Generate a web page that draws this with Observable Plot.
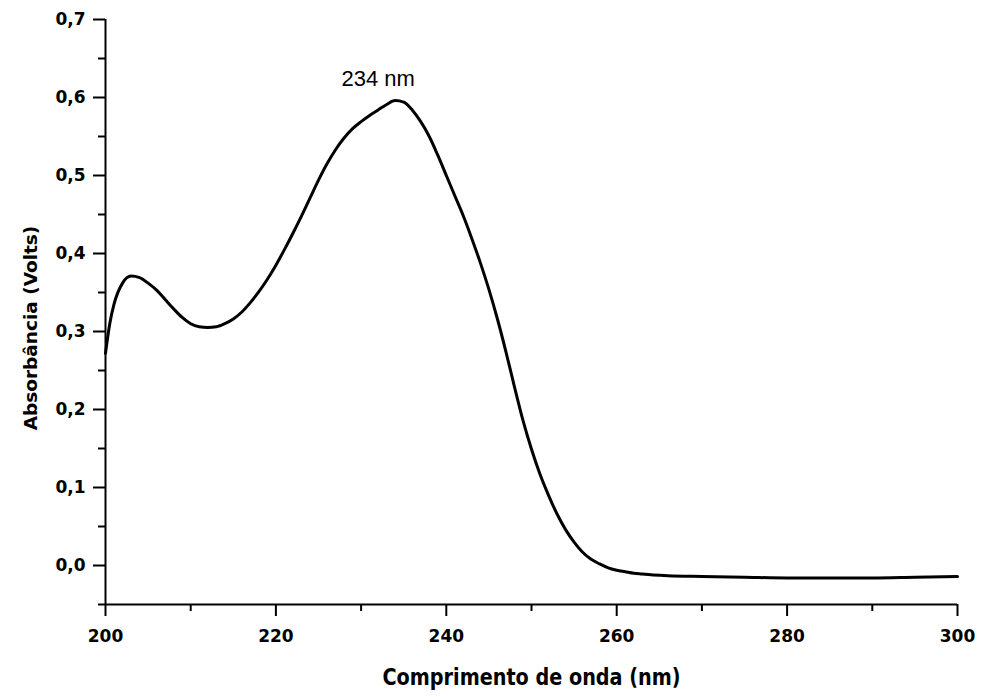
<!DOCTYPE html>
<html>
<head>
<meta charset="utf-8">
<script src="https://cdn.jsdelivr.net/npm/d3@7"></script>
<script src="https://cdn.jsdelivr.net/npm/@observablehq/plot@0.6"></script>
<style>
  html, body { margin: 0; padding: 0; background: #fff; }
</style>
</head>
<body>
<div id="chart"></div>
<script>
// Wavelength (nm) and absorbance (Volts)
const wavelength = [200, 200.5, 201, 202, 203, 204, 205, 206, 207, 208, 209, 210, 211, 212, 213, 214, 215, 216, 217, 218, 219,
  220, 221, 222, 223, 224, 225, 226, 227, 228, 229, 230, 231, 232, 233, 234, 235, 236, 237, 238, 239,
  240, 241, 242, 243, 244, 245, 246, 247, 248, 249, 250, 251, 252, 253, 254, 255, 256, 257, 258, 259,
  260, 261, 262, 263, 264, 266, 270, 275, 280, 290, 295, 300];
const absorbance = [0.272, 0.31, 0.335, 0.362, 0.371, 0.369, 0.362, 0.353, 0.341, 0.329, 0.318, 0.310, 0.306, 0.305, 0.306, 0.310, 0.316, 0.325, 0.337, 0.351, 0.367,
  0.385, 0.405, 0.426, 0.448, 0.471, 0.494, 0.515, 0.533, 0.548, 0.560, 0.569, 0.577, 0.584, 0.591, 0.596, 0.594, 0.584, 0.569, 0.550, 0.526,
  0.500, 0.474, 0.448, 0.419, 0.388, 0.354, 0.316, 0.274, 0.229, 0.186, 0.149, 0.117, 0.090, 0.066, 0.046, 0.030, 0.017, 0.008, 0.002, -0.003,
  -0.006, -0.008, -0.010, -0.011, -0.012, -0.013, -0.014, -0.015, -0.016, -0.016, -0.015, -0.014];

const xMajorTicks = [200, 220, 240, 260, 280, 300];
const xMinorTicks = [210, 230, 250, 270, 290];
const yMajorTicks = [0.0, 0.1, 0.2, 0.3, 0.4, 0.5, 0.6, 0.7];
const yMinorTicks = [-0.05, 0.05, 0.15, 0.25, 0.35, 0.45, 0.55, 0.65];

const xTitle = "Comprimento de onda (nm)";
const yTitle = "Absorbância (Volts)";
const peakLabel = [{x: 232, y: 0.624, text: "234 nm"}];

const data = wavelength.map((w, i) => ({w, a: absorbance[i]}));

const chart = Plot.plot({
  width: 982,
  height: 697,
  marginLeft: 105,
  marginRight: 25,
  marginTop: 19,
  marginBottom: 93,
  style: {fontFamily: "DejaVu Sans", fontWeight: "bold", fontSize: "17px", color: "black", background: "white"},
  x: {domain: [200, 300]},
  y: {domain: [-0.05, 0.7]},
  marks: [
    Plot.axisY({ticks: yMajorTicks, tickSize: 12, tickPadding: 8, strokeWidth: 2, label: null,
      tickFormat: d => d.toFixed(1).replace(".", ","), fontSize: 17, fontWeight: "bold"}),
    Plot.axisY({ticks: yMinorTicks, tickSize: 7, strokeWidth: 2, label: null, tickFormat: () => ""}),
    Plot.axisX({ticks: xMajorTicks, tickSize: 12, tickPadding: 13, strokeWidth: 2, label: null,
      tickFormat: d => String(d), fontSize: 17, fontWeight: "bold"}),
    Plot.axisX({ticks: xMinorTicks, tickSize: 7, strokeWidth: 2, label: null, tickFormat: () => ""}),
    Plot.ruleX([200], {y1: -0.05, y2: 0.7, strokeWidth: 2, stroke: "black"}),
    Plot.ruleY([-0.05], {x1: 200, x2: 300, strokeWidth: 2, stroke: "black"}),
    Plot.line(data, {x: "w", y: "a", curve: "monotone-x", stroke: "black", strokeWidth: 3}),
    Plot.text(peakLabel, {x: "x", y: "y", text: "text", fontFamily: "Liberation Sans", fontWeight: "normal", fontSize: 22, fill: "black"}),
    Plot.text([xTitle], {frameAnchor: "bottom", dy: 80, fontFamily: "DejaVu Sans Condensed", fontWeight: "bold", fontSize: 23, fill: "black"}),
    Plot.text([yTitle], {frameAnchor: "left", textAnchor: "middle", rotate: -90, dx: -74, dy: 16, fontFamily: "DejaVu Sans", fontWeight: "bold", fontSize: 18.5, fill: "black"})
  ]
});
document.getElementById("chart").appendChild(chart);

const svg = d3.select(chart);
// heavier tick strokes, as in the reference
svg.selectAll('g[aria-label$="tick"]').attr("stroke-width", 2);
// squeeze the x title to the reference's width
svg.selectAll("text").each(function() {
  if (this.textContent === xTitle) d3.select(this).attr("textLength", 298).attr("lengthAdjust", "spacingAndGlyphs");
});
</script>
</body>
</html>
